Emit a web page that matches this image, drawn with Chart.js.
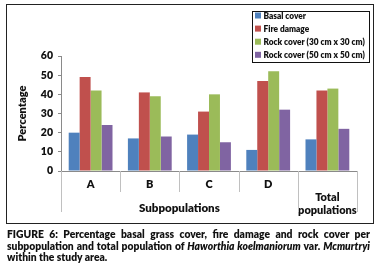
<!DOCTYPE html>
<html>
<head>
<meta charset="utf-8">
<script src="https://cdn.jsdelivr.net/npm/chart.js@4.4.0/dist/chart.umd.min.js"></script>
<style>
  body { margin: 0; background: #fff; width: 381px; height: 272px; overflow: hidden; font-family: Lato, sans-serif; }
  #wrap { position: absolute; left: 0; top: 0; width: 381px; height: 226px; }
  #frame { position: absolute; box-sizing: border-box; left: 6px; top: 4px; width: 368px; height: 220px; border: 1.5px solid #222; pointer-events: none; }
  #caption { position: absolute; left: 7px; top: 229px; width: 363px; font-weight: 800; font-size: 10.3px; line-height: 11.7px; color: #111; }
  .j { text-align: justify; text-align-last: justify; white-space: nowrap; }
</style>
</head>
<body>
<div id="wrap"><canvas id="coverChart"></canvas></div>
<div id="frame"></div>
<div id="caption">
  <div class="j">FIGURE 6: Percentage basal grass cover, fire damage and rock cover per</div>
  <div class="j">subpopulation and total population of <i>Haworthia koelmaniorum</i> var. <i>Mcmurtryi</i></div>
  <div>within the study area.</div>
</div>
<script>
// Categories on the x axis
const categories = ['A', 'B', 'C', 'D', 'Total populations'];
const groupTitle = 'Subpopulations';
const groupSize = 4; // first 4 categories belong to the group

// Series values (percentages)
const basalCover = [20, 17, 19, 11, 16.5];
const fireDamage = [49, 41, 31, 47, 42];
const rockCover30 = [42, 39, 40, 52, 43];
const rockCover50 = [24, 18, 15, 32, 22];

const seriesNames = ['Basal cover', 'Fire damage', 'Rock cover (30 cm x 30 cm)', 'Rock cover (50 cm x 50 cm)'];
const seriesColors = ['#4F81BD', '#C0504D', '#9BBB59', '#8064A2'];

// Y axis ticks
const yMin = 0, yMax = 60, yStep = 10;

const FONT = 'Lato, sans-serif';
const WEIGHT = '800';

// Draws the category dividers, group title and boxed legend
const extras = {
  id: 'extras',
  afterDraw(chart) {
    const { ctx, chartArea } = chart;
    const x = chart.scales.x;
    const w = x.getPixelForValue(1) - x.getPixelForValue(0);
    const axisY = chartArea.bottom;

    ctx.save();
    ctx.strokeStyle = '#c0c0c0';
    ctx.lineWidth = 1;
    for (let i = 0; i <= categories.length; i++) {
      const px = Math.round(x.getPixelForValue(i) - w / 2) + 0.5;
      const outer = (i === 0 || i === groupSize || i === categories.length);
      ctx.beginPath();
      ctx.moveTo(px, axisY);
      ctx.lineTo(px, outer ? axisY + 41 : axisY + 21);
      ctx.stroke();
    }

    // group title under A-D
    const gx = (x.getPixelForValue(0) + x.getPixelForValue(groupSize - 1)) / 2;
    ctx.fillStyle = '#111';
    ctx.font = WEIGHT + ' 11.5px ' + FONT;
    ctx.textAlign = 'center';
    ctx.textBaseline = 'middle';
    ctx.fillText(groupTitle, gx, axisY + 37);

    // legend
    const lx = 252.5, ly = 11.5, lw = 117, lh = 51;
    ctx.fillStyle = '#fff';
    ctx.fillRect(lx, ly, lw, lh);
    ctx.strokeStyle = '#111';
    ctx.strokeRect(lx, ly, lw, lh);
    ctx.font = WEIGHT + ' 8.3px ' + FONT;
    ctx.textAlign = 'left';
    chart.data.datasets.forEach((ds, i) => {
      const cy = 15.5 + i * 13.1;
      ctx.fillStyle = ds.backgroundColor;
      ctx.fillRect(255, cy - 3, 6, 6);
      ctx.fillStyle = '#111';
      ctx.fillText(ds.label, 263.5, cy + 0.5);
    });
    ctx.restore();
  }
};

const seriesData = [basalCover, fireDamage, rockCover30, rockCover50];

const ctx = document.getElementById('coverChart').getContext('2d');
const coverChart = new Chart(ctx, {
  type: 'bar',
  data: {
    labels: categories,
    datasets: seriesData.map((d, i) => ({
      label: seriesNames[i],
      data: d,
      backgroundColor: seriesColors[i],
      borderWidth: 0,
      barPercentage: 1,
      categoryPercentage: 0.74
    }))
  },
  options: {
    responsive: true,
    maintainAspectRatio: false,
    animation: false,
    layout: { padding: { top: 56, right: 24, left: 0, bottom: 0 } },
    plugins: {
      legend: { display: false },
      tooltip: { enabled: false }
    },
    scales: {
      x: {
        grid: { display: false, drawTicks: false },
        border: { color: '#8a8a8a', width: 1 },
        ticks: {
          color: '#111',
          padding: 7,
          maxRotation: 0,
          autoSkip: false,
          font: { family: FONT, size: 11, weight: WEIGHT, lineHeight: 1.18 },
          callback: function (value) {
            const label = this.getLabelForValue(value);
            return label.indexOf(' ') > 0 ? [''].concat(label.split(' ')) : label;
          }
        },
        afterFit: (scale) => { scale.height = 55; }
      },
      y: {
        min: yMin,
        max: yMax,
        ticks: {
          stepSize: yStep,
          color: '#111',
          padding: 5,
          font: { family: FONT, size: 10.5, weight: WEIGHT }
        },
        grid: { drawOnChartArea: false, drawTicks: true, tickLength: 3, color: '#8a8a8a' },
        border: { color: '#8a8a8a', width: 1 },
        title: {
          display: true,
          text: 'Percentage',
          color: '#111',
          padding: { top: 16, bottom: 0 },
          font: { family: FONT, size: 11, weight: WEIGHT }
        },
        afterFit: (scale) => { scale.width = 61; }
      }
    }
  },
  plugins: [extras]
});
</script>
</body>
</html>
